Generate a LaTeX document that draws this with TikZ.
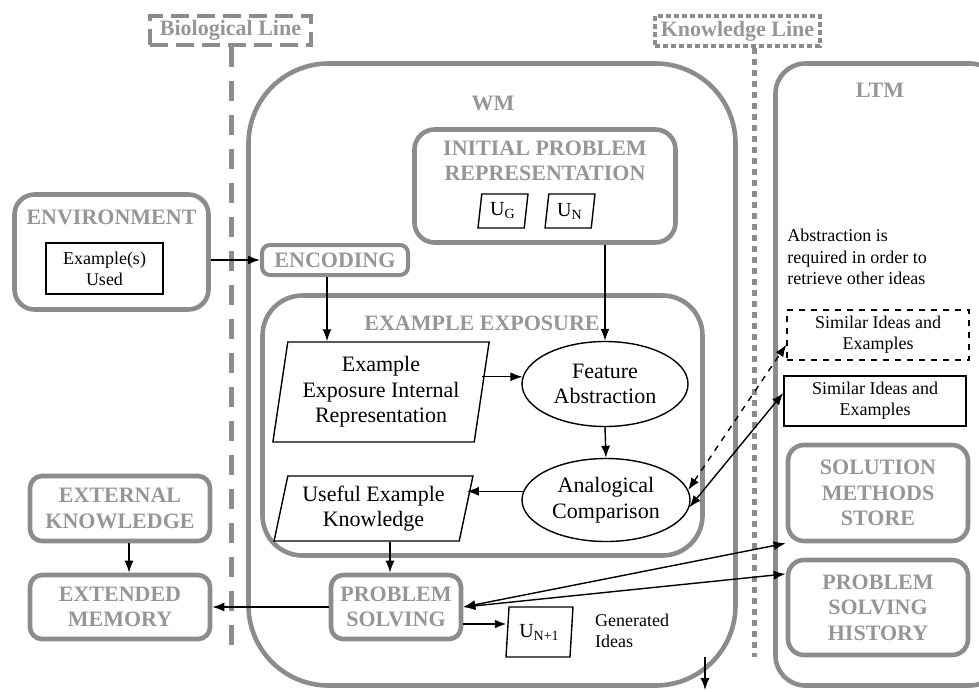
\documentclass[tikz,border=0pt]{standalone}
\usepackage{fontspec}
\setmainfont{Liberation Serif}
\usetikzlibrary{shapes.geometric,arrows.meta}
\definecolor{bord}{RGB}{140,140,140}
\definecolor{ttl}{RGB}{150,150,150}
\begin{document}
\begin{tikzpicture}[x=0.5pt,y=-0.5pt,
  frame/.style={draw=bord,line width=2.3pt,rounded corners=#1,inner sep=0pt,align=center},
  frame/.default=10pt,
  ttlfont/.style={font=\fontsize{11}{12.7}\selectfont\bfseries,text=ttl,align=center},
  body/.style={font=\fontsize{11}{12.8}\selectfont,align=center},
  small/.style={font=\fontsize{9}{10.6}\selectfont,align=center},
  thin/.style={draw=black,line width=0.7pt,inner sep=0pt},
  para/.style={thin,trapezium,trapezium stretches=true,trapezium left angle=#1,trapezium right angle=180-#1},
  oval/.style={thin,ellipse},
  arr/.style={-{Latex[length=6pt,width=4.5pt]},line width=0.7pt},
  biarr/.style={{Latex[length=6pt,width=4.5pt]}-{Latex[length=6pt,width=4.5pt]},line width=0.7pt},
]
\useasboundingbox (0,0) rectangle (979,691);

% separator lines
\node[frame=0pt,dash pattern=on 9pt off 4pt,minimum width=80.5pt,minimum height=14.5pt,ttlfont] (bio) at (230.5,30.5) {Biological Line};
\node[frame=0pt,dash pattern=on 2.5pt off 1.5pt,minimum width=82.5pt,minimum height=15pt,ttlfont] (know) at (737.5,31) {Knowledge Line};
\coordinate (bioend) at (231,648);
\coordinate (knowtop) at (754,48);
\coordinate (knowend) at (754,657);
\draw[draw=bord,line width=2.5pt,dash pattern=on 10pt off 7pt] (bio.south -| bioend) -- (bioend);
\draw[draw=bord,line width=2.5pt,dash pattern=on 3pt off 2.5pt] (knowtop) -- (knowend);

% big containers
\node[frame=40pt,minimum width=243.5pt,minimum height=311pt] (wm) at (492,374.5) {};
\node[ttlfont] (wmt) at (493,103) {WM};
\node[frame=15pt,minimum width=112.25pt,minimum height=311pt] (ltm) at (887.75,374.5) {};
\node[ttlfont] (ltmt) at (880,90) {LTM};

% initial problem representation
\node[frame=10pt,minimum width=130.5pt,minimum height=56.5pt] (ip) at (545,186) {};
\node[ttlfont] (ipt) at (545,161) {INITIAL PROBLEM\\REPRESENTATION};
\node[para=82,minimum width=25pt,minimum height=17pt,font=\fontsize{10}{12}\selectfont] (ug) at (503,211) {U\textsubscript{G}};
\node[para=82,minimum width=25pt,minimum height=17pt,font=\fontsize{10}{12}\selectfont] (un) at (570,211) {U\textsubscript{N}};

% environment
\node[frame=10pt,minimum width=97pt,minimum height=57.5pt] (env) at (111.5,252) {};
\node[ttlfont] (envt) at (111.5,217) {ENVIRONMENT};
\node[thin,minimum width=58.5pt,minimum height=25.5pt,small] (exu) at (104.5,268.5) {Example(s)\\Used};

% encoding
\node[frame=4pt,line width=2pt,minimum width=73pt,minimum height=15pt,ttlfont] (enc) at (335,260) {ENCODING};

% example exposure
\node[frame=20pt,minimum width=220pt,minimum height=130pt] (exx) at (482.5,425.5) {};
\node[ttlfont] (exxt) at (482,323) {EXAMPLE EXPOSURE};
\node[para=80,minimum width=109pt,minimum height=50pt,body] (exi) at (381,392) {Example\\Exposure Internal\\Representation};
\node[para=76,minimum width=99.5pt,minimum height=32.5pt,body] (use) at (373.5,508.5) {Useful Example\\Knowledge};
\node[oval,minimum width=83pt,minimum height=42.5pt,body] (feat) at (605,384) {Feature\\Abstraction};
\node[oval,minimum width=84pt,minimum height=41.5pt,body] (ana) at (606,500) {Analogical\\Comparison};

% problem solving and outputs
\node[frame=6pt,minimum width=65pt,minimum height=32pt,ttlfont] (ps) at (396,607) {PROBLEM\\SOLVING};
\node[para=83,minimum width=33.5pt,minimum height=25pt,font=\fontsize{10}{12}\selectfont] (un1) at (539.5,632) {U\textsubscript{N+1}};
\node[small,anchor=west,align=left] (gen) at (588,631) {Generated\\Ideas};

% external
\node[frame=6pt,minimum width=90pt,minimum height=32.5pt,ttlfont] (extk) at (120,508.5) {EXTERNAL\\KNOWLEDGE};
\node[frame=6pt,minimum width=90pt,minimum height=32pt,ttlfont] (extm) at (120,607) {EXTENDED\\MEMORY};

% LTM contents
\node[small,anchor=north west,align=left,inner sep=0pt] (abs) at (787,229) {Abstraction is\\required in order to\\retrieve other ideas};
\node[thin,dashed,minimum width=91pt,minimum height=25pt,small] (simd) at (878,335) {Similar Ideas and\\Examples};
\node[thin,minimum width=91pt,minimum height=25pt,small] (sims) at (875,401) {Similar Ideas and\\Examples};
\node[frame=8pt,minimum width=90pt,minimum height=48pt,ttlfont] (sol) at (878,493) {SOLUTION\\METHODS\\STORE};
\node[frame=8pt,minimum width=90pt,minimum height=47.5pt,ttlfont] (hist) at (878,607.5) {PROBLEM\\SOLVING\\HISTORY};

% connectors
\coordinate (x327) at (327,0);
\coordinate (x390) at (390,0);
\coordinate (x129) at (129,0);
\coordinate (y624) at (0,624);
\draw[arr] (enc.west -| env.east) -- (enc.west);
\draw[arr] (enc.south -| x327) -- (exi.north -| x327);
\draw[arr] (ip.south -| feat.north) -- (feat.north);
\draw[arr] (exi.east |- feat.175) -- (feat.175);
\draw[arr] (feat.south) -- (ana.north);
\draw[arr] (ana.174) -- (use.east |- ana.174);
\draw[arr] (use.south -| x390) -- (ps.north -| x390);
\draw[arr] (ps.west) -- (extm.east);
\draw[arr] (extk.south -| x129) -- (extm.north -| x129);
\draw[arr,line width=1.4pt] (ps.east |- y624) -- (un1.west |- y624);
\draw[biarr] (ps.east) -- (sol.south west);
\draw[biarr] (ps.east) -- (hist.160);
\draw[biarr,dashed] (ana.7) -- (simd.186);
\draw[biarr] (ana.355) -- (sims.175);
\coordinate (dtop) at (705,657);
\coordinate (dbot) at (705,690);
\draw[arr] (dtop) -- (dbot);
\end{tikzpicture}
\end{document}
